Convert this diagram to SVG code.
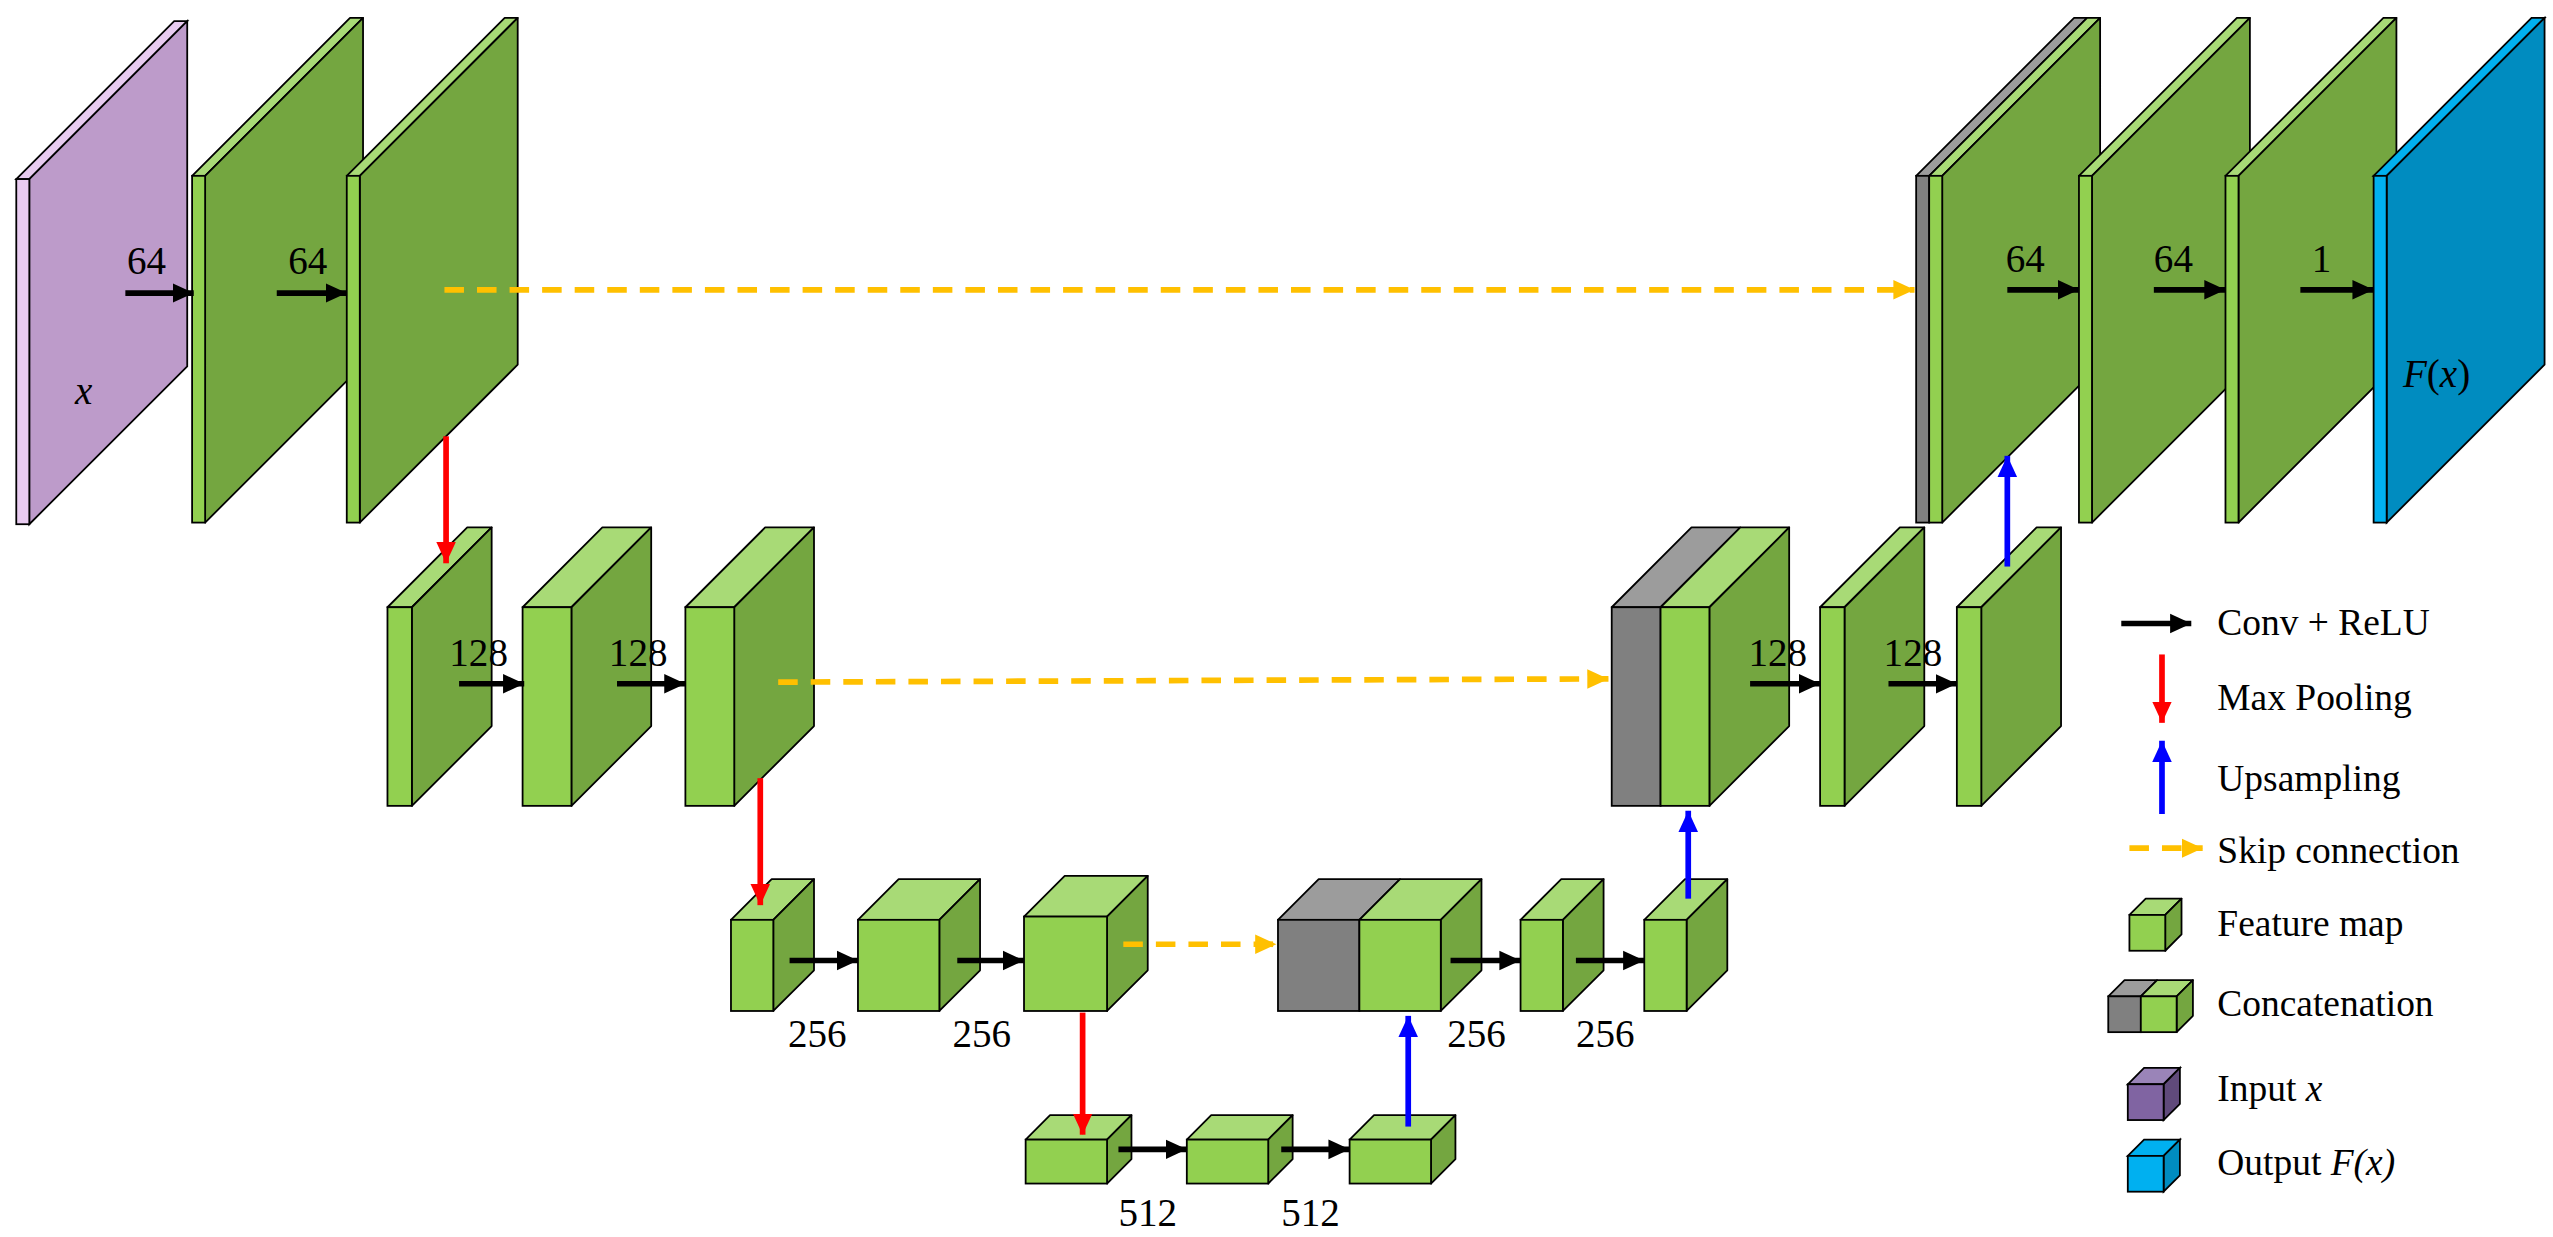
<svg xmlns="http://www.w3.org/2000/svg" width="2553" height="1237" viewBox="0 0 2553 1237">
<defs>
<style>
.s{fill:#74a640;stroke:#000;stroke-width:1.1;stroke-linejoin:round}
.f{fill:#92d050;stroke:#000;stroke-width:1.1}
.t{fill:#a8da76;stroke:#000;stroke-width:1.1;stroke-linejoin:round}
.gf{fill:#808080;stroke:#000;stroke-width:1.1}
.gt{fill:#9c9c9c;stroke:#000;stroke-width:1.1;stroke-linejoin:round}
.ps{fill:#bd9bca;stroke:#000;stroke-width:1.1}
.pf{fill:#e8cbf0;stroke:#000;stroke-width:1.1}
.bs{fill:#008cc0;stroke:#000;stroke-width:1.1}
.bf{fill:#00b0f0;stroke:#000;stroke-width:1.1}
.k{stroke:#000;stroke-width:3.5;fill:none}
.r{stroke:#ff0000;stroke-width:3.5;fill:none}
.u{stroke:#0000ff;stroke-width:3.5;fill:none}
.d{stroke:#ffc000;stroke-width:3.5;fill:none;stroke-dasharray:12 8}
text{font-family:"Liberation Serif","Times New Roman",serif;font-size:24px;fill:#000}
.lg{font-size:23px}
</style>
<marker id="hk" markerUnits="userSpaceOnUse" markerWidth="14" markerHeight="14" refX="13" refY="7" orient="auto"><path d="M0,1 L13,7 L0,13 Z" fill="#000"/></marker>
<marker id="hr" markerUnits="userSpaceOnUse" markerWidth="14" markerHeight="14" refX="13" refY="7" orient="auto"><path d="M0,1 L13,7 L0,13 Z" fill="#ff0000"/></marker>
<marker id="hu" markerUnits="userSpaceOnUse" markerWidth="14" markerHeight="14" refX="13" refY="7" orient="auto"><path d="M0,1 L13,7 L0,13 Z" fill="#0000ff"/></marker>
<marker id="hd" markerUnits="userSpaceOnUse" markerWidth="14" markerHeight="14" refX="13" refY="7" orient="auto"><path d="M0,1 L13,7 L0,13 Z" fill="#ffc000"/></marker>
</defs>
<rect width="2553" height="1237" fill="#fff"/>
<g transform="scale(1.628)">
<g id="input-x">
<polygon class="pf" points="10,110 18,110 115,13 107,13"/>
<polygon class="ps" points="18,110 115,13 115,225 18,322"/>
<rect class="pf" x="10" y="110" width="8" height="212"/>
<text x="46" y="248" font-style="italic" font-size="30">x</text>
</g>
<g id="enc1a"><polygon class="t" points="118,108 126,108 223,11 215,11"/><polygon class="s" points="126,108 223,11 223,224 126,321"/><rect class="f" x="118" y="108" width="8" height="213"/></g>
<g id="enc1b"><polygon class="t" points="213,108 221,108 318,11 310,11"/><polygon class="s" points="221,108 318,11 318,224 221,321"/><rect class="f" x="213" y="108" width="8" height="213"/></g>
<g id="dec1cat"><polygon class="gt" points="1177,108 1185,108 1282,11 1274,11"/><polygon class="t" points="1185,108 1193,108 1290,11 1282,11"/><polygon class="s" points="1193,108 1290,11 1290,224 1193,321"/><rect class="gf" x="1177" y="108" width="8" height="213"/><rect class="f" x="1185" y="108" width="8" height="213"/></g>
<g id="dec1a"><polygon class="t" points="1277,108 1285,108 1382,11 1374,11"/><polygon class="s" points="1285,108 1382,11 1382,224 1285,321"/><rect class="f" x="1277" y="108" width="8" height="213"/></g>
<g id="dec1b"><polygon class="t" points="1367,108 1375,108 1472,11 1464,11"/><polygon class="s" points="1375,108 1472,11 1472,224 1375,321"/><rect class="f" x="1367" y="108" width="8" height="213"/></g>
<g id="output"><polygon class="bf" points="1458,108 1466,108 1563,11 1555,11"/><polygon class="bs" points="1466,108 1563,11 1563,224 1466,321"/><rect class="bf" x="1458" y="108" width="8" height="213"/>
<text x="1476" y="238" font-size="30"><tspan font-style="italic">F</tspan>(<tspan font-style="italic">x</tspan>)</text></g>

<g id="enc2a"><polygon class="t" points="238,373 253,373 302,324 287,324"/><polygon class="s" points="253,373 302,324 302,446 253,495"/><rect class="f" x="238" y="373" width="15" height="122"/></g>
<g id="enc2b"><polygon class="t" points="321,373 351,373 400,324 370,324"/><polygon class="s" points="351,373 400,324 400,446 351,495"/><rect class="f" x="321" y="373" width="30" height="122"/></g>
<g id="enc2c"><polygon class="t" points="421,373 451,373 500,324 470,324"/><polygon class="s" points="451,373 500,324 500,446 451,495"/><rect class="f" x="421" y="373" width="30" height="122"/></g>
<g id="dec2cat"><polygon class="gt" points="990,373 1020,373 1069,324 1039,324"/><polygon class="t" points="1020,373 1050,373 1099,324 1069,324"/><polygon class="s" points="1050,373 1099,324 1099,446 1050,495"/><rect class="gf" x="990" y="373" width="30" height="122"/><rect class="f" x="1020" y="373" width="30" height="122"/></g>
<g id="dec2a"><polygon class="t" points="1118,373 1133,373 1182,324 1167,324"/><polygon class="s" points="1133,373 1182,324 1182,446 1133,495"/><rect class="f" x="1118" y="373" width="15" height="122"/></g>
<g id="dec2b"><polygon class="t" points="1202,373 1217,373 1266,324 1251,324"/><polygon class="s" points="1217,373 1266,324 1266,446 1217,495"/><rect class="f" x="1202" y="373" width="15" height="122"/></g>

<g id="enc3a"><polygon class="t" points="449,565 475,565 500,540 474,540"/><polygon class="s" points="475,565 500,540 500,596 475,621"/><rect class="f" x="449" y="565" width="26" height="56"/></g>
<g id="enc3b"><polygon class="t" points="527,565 577,565 602,540 552,540"/><polygon class="s" points="577,565 602,540 602,596 577,621"/><rect class="f" x="527" y="565" width="50" height="56"/></g>
<g id="enc3c"><polygon class="t" points="629,563 680,563 705,538 654,538"/><polygon class="s" points="680,563 705,538 705,596 680,621"/><rect class="f" x="629" y="563" width="51" height="58"/></g>
<g id="dec3cat"><polygon class="gt" points="785,565 835,565 860,540 810,540"/><polygon class="t" points="835,565 885,565 910,540 860,540"/><polygon class="s" points="885,565 910,540 910,596 885,621"/><rect class="gf" x="785" y="565" width="50" height="56"/><rect class="f" x="835" y="565" width="50" height="56"/></g>
<g id="dec3a"><polygon class="t" points="934,565 960,565 985,540 959,540"/><polygon class="s" points="960,565 985,540 985,596 960,621"/><rect class="f" x="934" y="565" width="26" height="56"/></g>
<g id="dec3b"><polygon class="t" points="1010,565 1036,565 1061,540 1035,540"/><polygon class="s" points="1036,565 1061,540 1061,596 1036,621"/><rect class="f" x="1010" y="565" width="26" height="56"/></g>

<g id="bott1"><polygon class="t" points="630,700 680,700 695,685 645,685"/><polygon class="s" points="680,700 695,685 695,712 680,727"/><rect class="f" x="630" y="700" width="50" height="27"/></g>
<g id="bott2"><polygon class="t" points="729,700 779,700 794,685 744,685"/><polygon class="s" points="779,700 794,685 794,712 779,727"/><rect class="f" x="729" y="700" width="50" height="27"/></g>
<g id="bott3"><polygon class="t" points="829,700 879,700 894,685 844,685"/><polygon class="s" points="879,700 894,685 894,712 879,727"/><rect class="f" x="829" y="700" width="50" height="27"/></g>

<g id="connectors">
<line class="k" x1="77" y1="180" x2="119" y2="180" marker-end="url(#hk)"/>
<line class="k" x1="170" y1="180" x2="213" y2="180" marker-end="url(#hk)"/>
<line class="k" x1="1233" y1="178" x2="1277" y2="178" marker-end="url(#hk)"/>
<line class="k" x1="1323" y1="178" x2="1367" y2="178" marker-end="url(#hk)"/>
<line class="k" x1="1413" y1="178" x2="1458" y2="178" marker-end="url(#hk)"/>
<line class="k" x1="282" y1="420" x2="322" y2="420" marker-end="url(#hk)"/>
<line class="k" x1="379" y1="420" x2="421" y2="420" marker-end="url(#hk)"/>
<line class="k" x1="1075" y1="420" x2="1118" y2="420" marker-end="url(#hk)"/>
<line class="k" x1="1160" y1="420" x2="1202" y2="420" marker-end="url(#hk)"/>
<line class="k" x1="485" y1="590" x2="527" y2="590" marker-end="url(#hk)"/>
<line class="k" x1="588" y1="590" x2="629" y2="590" marker-end="url(#hk)"/>
<line class="k" x1="891" y1="590" x2="934" y2="590" marker-end="url(#hk)"/>
<line class="k" x1="968" y1="590" x2="1010" y2="590" marker-end="url(#hk)"/>
<line class="k" x1="687" y1="706" x2="729" y2="706" marker-end="url(#hk)"/>
<line class="k" x1="787" y1="706" x2="829" y2="706" marker-end="url(#hk)"/>
<line class="r" x1="274" y1="268" x2="274" y2="346" marker-end="url(#hr)"/>
<line class="r" x1="467" y1="478" x2="467" y2="556" marker-end="url(#hr)"/>
<line class="r" x1="665" y1="622" x2="665" y2="697" marker-end="url(#hr)"/>
<line class="u" x1="865" y1="692" x2="865" y2="624" marker-end="url(#hu)"/>
<line class="u" x1="1037" y1="552" x2="1037" y2="498" marker-end="url(#hu)"/>
<line class="u" x1="1233" y1="348" x2="1233" y2="280" marker-end="url(#hu)"/>
<line class="d" x1="273" y1="178" x2="1176" y2="178" marker-end="url(#hd)"/>
<line class="d" x1="478" y1="419" x2="988" y2="417" marker-end="url(#hd)"/>
<line class="d" x1="690" y1="580" x2="784" y2="580" marker-end="url(#hd)"/>
</g>
<g id="labels">
<text x="78" y="168">64</text><text x="177" y="168">64</text>
<text x="1232" y="167">64</text><text x="1323" y="167">64</text><text x="1420" y="167">1</text>
<text x="276" y="409">128</text><text x="374" y="409">128</text>
<text x="1074" y="409">128</text><text x="1157" y="409">128</text>
<text x="484" y="643">256</text><text x="585" y="643">256</text>
<text x="889" y="643">256</text><text x="968" y="643">256</text>
<text x="687" y="753">512</text><text x="787" y="753">512</text>
</g>
<g id="legend">
<line class="k" x1="1303" y1="383" x2="1346" y2="383" marker-end="url(#hk)"/>
<text class="lg" x="1362" y="390">Conv + ReLU</text>
<line class="r" x1="1328" y1="402" x2="1328" y2="444" marker-end="url(#hr)"/>
<text class="lg" x="1362" y="436">Max Pooling</text>
<line class="u" x1="1328" y1="500" x2="1328" y2="455" marker-end="url(#hu)"/>
<text class="lg" x="1362" y="486">Upsampling</text>
<line class="d" x1="1308" y1="521" x2="1353" y2="521" marker-end="url(#hd)"/>
<text class="lg" x="1362" y="530">Skip connection</text>
<polygon class="t" points="1308,562 1330,562 1340,552 1318,552"/><polygon class="s" points="1330,562 1340,552 1340,574 1330,584"/><rect class="f" x="1308" y="562" width="22" height="22"/>
<text class="lg" x="1362" y="575">Feature map</text>
<polygon class="gt" points="1295,612 1315,612 1325,602 1305,602"/><polygon class="t" points="1315,612 1337,612 1347,602 1325,602"/><polygon class="s" points="1337,612 1347,602 1347,624 1337,634"/><rect class="gf" x="1295" y="612" width="20" height="22"/><rect class="f" x="1315" y="612" width="22" height="22"/>
<text class="lg" x="1362" y="624">Concatenation</text>
<polygon fill="#9a84b8" stroke="#000" stroke-width="1.1" points="1307,666 1329,666 1339,656 1317,656"/><polygon fill="#604a7b" stroke="#000" stroke-width="1.1" points="1329,666 1339,656 1339,678 1329,688"/><rect fill="#8064a2" stroke="#000" stroke-width="1.1" x="1307" y="666" width="22" height="22"/>
<text class="lg" x="1362" y="676">Input <tspan font-style="italic">x</tspan></text>
<polygon class="bf" points="1307,710 1329,710 1339,700 1317,700"/><polygon class="bs" points="1329,710 1339,700 1339,722 1329,732"/><rect class="bf" x="1307" y="710" width="22" height="22"/>
<text class="lg" x="1362" y="722">Output <tspan font-style="italic">F(x)</tspan></text>
</g>
</g>
</svg>
